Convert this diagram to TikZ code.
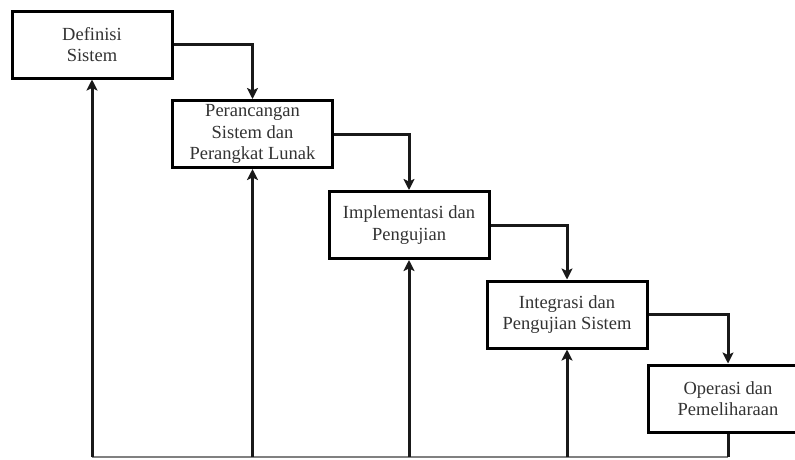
\documentclass[tikz,border=0pt]{standalone}
\usepackage{fontspec}
\setmainfont{Liberation Serif}
\usetikzlibrary{arrows.meta}
\begin{document}
\begin{tikzpicture}[x=1pt,y=-1pt,
  box/.style={draw=black, line width=3pt, fill=white, minimum width=160pt, minimum height=67pt,
    inner sep=0pt, align=center, text=black!80, font=\fontsize{18.5}{21.5}\selectfont},
  flow/.style={line width=3pt, draw=black!90, -{Stealth[length=11pt,width=11pt,inset=2.5pt]}},
  feed/.style={line width=3pt, draw=black!90, -{Stealth[length=11pt,width=11pt,inset=2.5pt]}},
  base/.style={line width=1.2pt, draw=black!50}]
\useasboundingbox (0,0) rectangle (795,459);
\begin{scope}
\clip (0,0) rectangle (795,459);
\node[box] (s1) at (92,44.5) {Definisi\\Sistem};
\node[box] (s2) at (252.5,134) {Perancangan\\Sistem dan\\Perangkat Lunak};
\node[box] (s3) at (409,225) {Implementasi dan\\Pengujian};
\node[box] (s4) at (567,314.5) {Integrasi dan\\Pengujian Sistem};
\node[box] (s5) at (728,398.5) {Operasi dan\\Pemeliharaan};
\draw[flow] (s1.east) -| (s2.north);
\draw[flow] (s2.east) -| (s3.north);
\draw[flow] (s3.east) -| (s4.north);
\draw[flow] (s4.east) -| (s5.north);
\coordinate (b1) at (s1.south |- 0,457);
\coordinate (b2) at (s2.south |- 0,457);
\coordinate (b3) at (s3.south |- 0,457);
\coordinate (b4) at (s4.south |- 0,457);
\coordinate (b5) at (s5.south |- 0,457);
\draw[base] (b1) -- (b5);
\draw[feed] (b1) -- (s1.south);
\draw[feed] (b2) -- (s2.south);
\draw[feed] (b3) -- (s3.south);
\draw[feed] (b4) -- (s4.south);
\draw[line width=3pt, draw=black!90] (b5) -- (s5.south);
\end{scope}
\end{tikzpicture}
\end{document}
